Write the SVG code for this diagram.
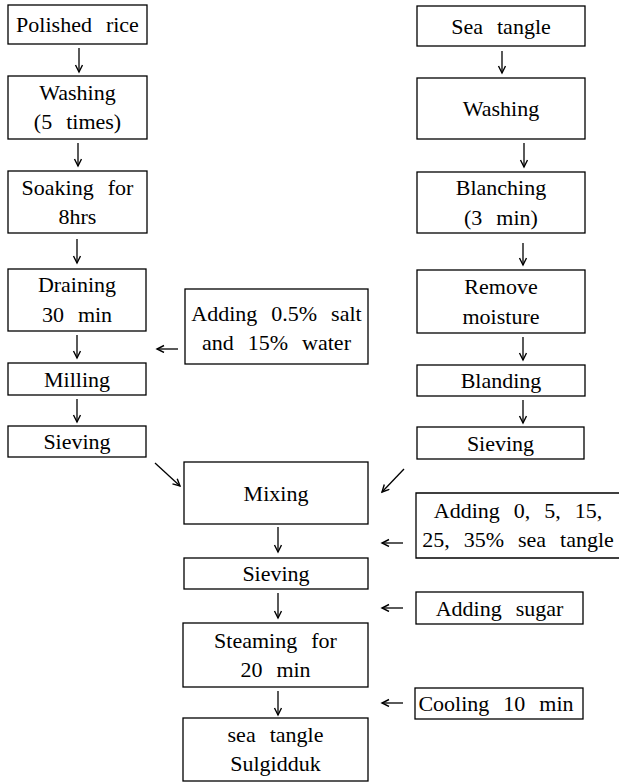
<svg xmlns="http://www.w3.org/2000/svg" width="619" height="782" viewBox="0 0 619 782">
<style>
.box{fill:#fff;stroke:#000;stroke-width:1.3}
text{font-family:'Liberation Serif','Times New Roman',serif;font-size:22px;fill:#000;text-anchor:middle;word-spacing:8.5px}
.c line{stroke:#000;stroke-width:1.3;marker-end:url(#ah)}
</style>
<defs>
<marker id="ah" markerUnits="userSpaceOnUse" markerWidth="10" markerHeight="10" refX="8" refY="4" orient="auto">
<path d="M1,0.5 L8,4 L1,7.5" fill="none" stroke="#000" stroke-width="1.4"/>
</marker>
</defs>
<rect width="619" height="782" fill="#fff"/>
<g font-family="Liberation Serif">
<g id="n-polished"><rect class="box" x="8" y="5" width="139" height="39"/><text x="77.5" y="32">Polished rice</text></g>
<g id="n-washing1"><rect class="box" x="8" y="76" width="139" height="63"/><text x="77.5" y="100">Washing</text><text x="77.5" y="129">(5 times)</text></g>
<g id="n-soaking"><rect class="box" x="8" y="171" width="139" height="62"/><text x="77.5" y="195">Soaking for</text><text x="77.5" y="224">8hrs</text></g>
<g id="n-draining"><rect class="box" x="8" y="269" width="138" height="62"/><text x="77" y="292">Draining</text><text x="77" y="322">30 min</text></g>
<g id="n-milling"><rect class="box" x="8" y="363" width="138" height="32"/><text x="77" y="387">Milling</text></g>
<g id="n-sieving1"><rect class="box" x="8" y="426" width="138" height="31"/><text x="77" y="449">Sieving</text></g>
<g id="n-seatangle"><rect class="box" x="417" y="6" width="168" height="40"/><text x="501" y="34">Sea tangle</text></g>
<g id="n-washing2"><rect class="box" x="417" y="78" width="168" height="61"/><text x="501" y="116">Washing</text></g>
<g id="n-blanching"><rect class="box" x="417" y="172" width="168" height="61"/><text x="501" y="195">Blanching</text><text x="501" y="225">(3 min)</text></g>
<g id="n-remove"><rect class="box" x="417" y="270" width="168" height="63"/><text x="501" y="294">Remove</text><text x="501" y="324">moisture</text></g>
<g id="n-blanding"><rect class="box" x="417" y="365" width="168" height="31"/><text x="501" y="388">Blanding</text></g>
<g id="n-sieving2"><rect class="box" x="417" y="427" width="167" height="32"/><text x="500.5" y="451">Sieving</text></g>
<g id="n-salt"><rect class="box" x="185" y="289" width="183" height="75"/><text x="276.5" y="321">Adding 0.5% salt</text><text x="276.5" y="350">and 15% water</text></g>
<g id="n-mixing"><rect class="box" x="184" y="462" width="184" height="62"/><text x="276" y="501">Mixing</text></g>
<g id="n-adding-tangle"><path class="box" d="M620,493 H416 V558 H620"/><text x="518" y="518">Adding 0, 5, 15,</text><text x="518" y="547">25, 35% sea tangle</text></g>
<g id="n-sieving3"><rect class="box" x="184" y="558" width="184" height="31"/><text x="276" y="581">Sieving</text></g>
<g id="n-sugar"><rect class="box" x="416" y="592" width="167" height="32"/><text x="499.5" y="616">Adding sugar</text></g>
<g id="n-steaming"><rect class="box" x="183" y="623" width="185" height="64"/><text x="275.5" y="648">Steaming for</text><text x="275.5" y="677">20 min</text></g>
<g id="n-cooling"><rect class="box" x="415" y="688" width="168" height="31"/><text x="496" y="711">Cooling 10 min</text></g>
<g id="n-final"><rect class="box" x="183" y="718" width="185" height="63"/><text x="275.5" y="742">sea tangle</text><text x="275.5" y="771">Sulgidduk</text></g>
</g>
<g id="connectors" class="c">
<line x1="79" y1="48" x2="79" y2="72"/>
<line x1="78" y1="143" x2="78" y2="166"/>
<line x1="77" y1="239" x2="77" y2="263"/>
<line x1="77" y1="335" x2="77" y2="358"/>
<line x1="77" y1="399" x2="77" y2="422"/>
<line x1="502" y1="51" x2="502" y2="73"/>
<line x1="524" y1="143" x2="524" y2="167"/>
<line x1="523" y1="243" x2="523" y2="265"/>
<line x1="523" y1="337" x2="523" y2="360"/>
<line x1="523" y1="400" x2="523" y2="423"/>
<line x1="178" y1="349" x2="157" y2="349"/>
<line x1="155" y1="463" x2="180" y2="486"/>
<line x1="404" y1="469" x2="382" y2="492"/>
<line x1="278" y1="527" x2="278" y2="552"/>
<line x1="403" y1="543" x2="382" y2="543"/>
<line x1="278" y1="593" x2="278" y2="618"/>
<line x1="403" y1="608" x2="382" y2="608"/>
<line x1="278" y1="691" x2="278" y2="715"/>
<line x1="403" y1="703" x2="382" y2="703"/>
</g>
</svg>
